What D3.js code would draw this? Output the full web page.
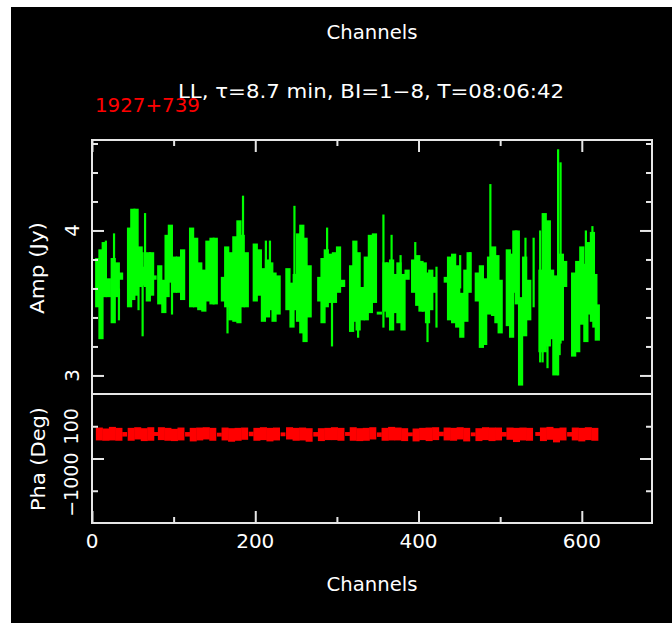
<!DOCTYPE html>
<html>
<head>
<meta charset="utf-8">
<script src="https://cdn.jsdelivr.net/npm/d3@7"></script>
<style>
  body { margin: 0; background: #fff; }
  svg { display: block; }
  text { font-family: "DejaVu Sans", sans-serif; fill: #fff; }
</style>
</head>
<body>
<svg id="chart" width="672" height="623"></svg>
<script>
// amplitude in blocks of ~5 channels (thick part of the error bars)
const blockChan = [7, 11, 15, 20, 26, 31, 35,
  46, 50, 54, 59, 64, 69, 73, 76,
  83, 88, 92, 96, 101, 106, 111,
  122, 127, 132, 137, 142, 147, 151,
  161, 165, 170, 175, 180, 184, 189,
  200, 205, 210, 215, 219, 223, 228,
  240, 245, 249, 253, 257, 261, 266,
  279, 283, 287, 292, 297, 302, 307,
  318, 322, 326, 331, 336, 341, 346, 352,
  359, 363, 367, 372, 376, 381, 386,
  394, 399, 403, 407, 411, 415, 419,
  434, 438, 443, 448, 453, 458, 462,
  472, 477, 481, 487, 492, 496, 500,
  510, 514, 518, 521, 525, 530, 535,
  550, 554, 559, 563, 567, 571, 575, 579,
  590, 595, 600, 605, 609, 613, 616, 619];
const blockLo = [3.47, 3.25, 3.54, 3.54, 3.36, 3.54, 3.66,
  3.47, 3.52, 3.55, 3.61, 3.62, 3.51, 3.55, 3.66,
  3.49, 3.43, 3.54, 3.64, 3.57, 3.57, 3.52,
  3.47, 3.47, 3.45, 3.44, 3.51, 3.49, 3.49,
  3.51, 3.47, 3.38, 3.37, 3.36, 3.47, 3.47,
  3.51, 3.55, 3.37, 3.40, 3.45, 3.37, 3.42,
  3.45, 3.33, 3.45, 3.37, 3.29, 3.23, 3.40,
  3.51, 3.36, 3.47, 3.50, 3.50, 3.57, 3.61,
  3.30, 3.37, 3.31, 3.38, 3.38, 3.43, 3.50, 3.42,
  3.44, 3.40, 3.31, 3.43, 3.36, 3.31, 3.66,
  3.57, 3.48, 3.44, 3.44, 3.36, 3.45, 3.57,
  3.64, 3.38, 3.36, 3.33, 3.26, 3.37, 3.57,
  3.51, 3.19, 3.21, 3.42, 3.41, 3.36, 3.29,
  3.34, 3.26, 3.57, 3.49, 2.93, 3.27, 3.38,
  3.16, 3.16, 3.20, 3.25, 3.00, 3.14, 3.24, 3.61,
  3.13, 3.16, 3.35, 3.23, 3.42, 3.37, 3.33, 3.24];
const blockHi = [3.81, 3.87, 3.92, 3.67, 3.81, 3.78, 3.71,
  4.02, 4.15, 4.15, 3.89, 3.75, 3.85, 3.85, 3.69,
  3.76, 3.66, 3.97, 4.04, 3.82, 3.82, 3.87,
  4.02, 3.95, 3.78, 3.73, 3.93, 3.95, 3.95,
  3.68, 3.89, 3.85, 3.96, 4.07, 3.97, 3.85,
  3.91, 3.87, 3.74, 3.80, 3.78, 3.71, 3.69,
  3.74, 3.64, 3.70, 3.98, 4.04, 3.95, 3.76,
  3.68, 3.81, 3.87, 3.84, 3.85, 3.89, 3.66,
  3.76, 3.93, 3.85, 3.61, 3.82, 3.97, 3.98, 3.44,
  3.78, 3.78, 3.80, 3.70, 3.78, 3.70, 3.73,
  3.80, 3.83, 3.79, 3.78, 3.71, 3.73, 3.68,
  3.68, 3.82, 3.84, 3.76, 3.57, 3.73, 3.85,
  3.71, 3.76, 3.67, 3.82, 3.89, 3.83, 3.66,
  3.87, 3.84, 4.00, 4.00, 3.54, 3.82, 3.66,
  3.73, 4.12, 4.07, 3.73, 3.69, 3.66, 3.84, 3.79,
  3.71, 3.79, 3.89, 3.77, 3.92, 3.99, 3.70, 3.49];

// single channels whose error bars stick out of the blocks
const spikeChan = [17, 27, 33, 57, 62, 65, 98, 166, 185, 213, 218, 248, 288, 294, 326,
  357, 367, 378, 396, 411, 422, 451, 463, 488, 531, 541, 549, 552, 558, 571, 574, 605, 613];
const spikeLo = [3.55, 3.45, 3.38, 3.45, 3.27, 3.61, 3.42, 3.29, 3.60, 3.60, 3.60, 3.55, 3.60, 3.20, 3.26,
  3.33, 3.70, 3.60, 3.70, 3.23, 3.33, 3.60, 3.70, 3.60, 3.60, 3.47, 3.09, 3.09, 3.05, 3.00, 3.22, 3.50, 3.60];
const spikeHi = [3.93, 3.98, 3.60, 3.70, 3.85, 4.12, 3.70, 3.50, 4.24, 3.93, 3.93, 4.17, 4.02, 3.55, 3.40,
  4.11, 3.97, 3.83, 3.92, 3.40, 3.75, 3.83, 3.85, 4.32, 3.95, 3.95, 4.00, 3.50, 3.40, 4.56, 4.47, 4.00, 4.03];

// phase, in bins of 8 channels
const phaseChan = [9, 17, 25, 33, 48, 56, 64, 72, 85, 93, 101, 109, 124, 132, 140, 148,
  163, 171, 179, 187, 202, 210, 218, 226, 242, 250, 258, 266, 281, 289, 297, 305,
  320, 328, 336, 344, 359, 367, 375, 383, 397, 405, 413, 421, 435, 443, 451, 459,
  474, 482, 490, 498, 512, 520, 528, 536, 553, 561, 569, 577, 592, 600, 608, 616];
const phaseVal = [76, 74, 77, 75, 75, 78, 74, 76, 77, 75, 73, 76, 74, 76, 78, 75,
  76, 73, 75, 77, 75, 77, 74, 76, 78, 75, 76, 73, 74, 76, 77, 75,
  76, 74, 75, 78, 75, 77, 76, 74, 73, 76, 75, 77, 76, 75, 78, 74,
  74, 77, 75, 76, 77, 73, 76, 75, 75, 78, 72, 76, 76, 74, 77, 75];
const phaseErr = [20, 19, 21, 20, 20, 19, 20, 21, 20, 20, 19, 20, 21, 20, 19, 20,
  20, 21, 20, 19, 20, 20, 21, 20, 19, 20, 20, 21, 20, 19, 20, 20,
  21, 20, 20, 19, 20, 21, 20, 20, 20, 19, 21, 20, 20, 20, 19, 21,
  20, 20, 21, 20, 19, 22, 20, 20, 21, 20, 22, 20, 20, 21, 20, 20];
// the narrow phase points between the sub-bands
const phaseGapChan = [40, 78, 117, 156, 195, 234, 274, 313, 352, 390, 428, 467, 505, 546, 585];
const phaseGapVal = [75, 76, 75, 74, 76, 75, 75, 76, 74, 75, 76, 75, 75, 76, 75];
const phaseGapErr = [7, 6, 7, 6, 7, 6, 7, 6, 7, 6, 7, 6, 7, 6, 7];

const xMajor = [0, 200, 400, 600];
const xMinor = [100, 300, 500];
const ampMajor = [3, 4];
const ampMinor = [3.2, 3.4, 3.6, 3.8, 4.2, 4.4, 4.6];
const phaMajor = [0];
const phaMinor = [-100, 100];
const phaLabels = [-100, 0, 100];

const FRAME = "#e6e6e6";
const svg = d3.select("#chart");

svg.append("rect").attr("x", 11).attr("y", 7).attr("width", 661).attr("height", 616).attr("fill", "#000");

const padL = 92, padR = 652, padT = 140, padM = 394, padB = 523;
const x = d3.scaleLinear().domain([0, 686]).range([padL, padR]);
const yAmp = d3.scaleLinear().domain([2.872, 4.624]).range([padM, padT]);
const yPha = d3.scaleLinear().domain([-200, 200]).range([padB, padM]);

const blocks = blockChan.map((c, i) => ({c: c, lo: blockLo[i], hi: blockHi[i]}));
const spikes = spikeChan.map((c, i) => ({c: c, lo: spikeLo[i], hi: spikeHi[i]}));
const phases = phaseChan.map((c, i) => ({c: c, v: phaseVal[i], e: phaseErr[i], w: 4.3}))
  .concat(phaseGapChan.map((c, i) => ({c: c, v: phaseGapVal[i], e: phaseGapErr[i], w: 3})));

// green amplitude bars
svg.append("g").selectAll("line").data(spikes).join("line")
  .attr("x1", d => x(d.c)).attr("x2", d => x(d.c))
  .attr("y1", d => yAmp(d.lo)).attr("y2", d => yAmp(d.hi))
  .attr("stroke", "#00ff00").attr("stroke-width", 2.2);
svg.append("g").selectAll("rect").data(blocks).join("rect")
  .attr("x", d => x(d.c - 3.2)).attr("width", d => x(d.c + 3.2) - x(d.c - 3.2))
  .attr("y", d => yAmp(d.hi)).attr("height", d => yAmp(d.lo) - yAmp(d.hi))
  .attr("fill", "#00ff00");

// red phase bars
svg.append("g").selectAll("rect").data(phases).join("rect")
  .attr("x", d => x(d.c - d.w)).attr("width", d => x(d.c + d.w) - x(d.c - d.w))
  .attr("y", d => yPha(d.v + d.e)).attr("height", d => yPha(d.v - d.e) - yPha(d.v + d.e))
  .attr("fill", "#ff0000");

// frame and ticks
function ticks(pos, axis, scale, values, size) {
  const g = svg.append("g").attr("transform", pos);
  g.call(axis(scale).tickValues(values).tickSize(size).tickFormat(""));
  g.select(".domain").remove();
  g.selectAll("line").attr("stroke", FRAME).attr("stroke-width", 2);
}
ticks(`translate(0,${padT})`, d3.axisBottom, x, xMajor, 12);
ticks(`translate(0,${padT})`, d3.axisBottom, x, xMinor, 6);
ticks(`translate(0,${padB})`, d3.axisTop, x, xMajor, 12);
ticks(`translate(0,${padB})`, d3.axisTop, x, xMinor, 6);
ticks(`translate(${padL},0)`, d3.axisRight, yAmp, ampMajor, 12);
ticks(`translate(${padL},0)`, d3.axisRight, yAmp, ampMinor, 6);
ticks(`translate(${padR},0)`, d3.axisLeft, yAmp, ampMajor, 12);
ticks(`translate(${padR},0)`, d3.axisLeft, yAmp, ampMinor, 6);
ticks(`translate(${padL},0)`, d3.axisRight, yPha, phaMajor, 12);
ticks(`translate(${padL},0)`, d3.axisRight, yPha, phaMinor, 6);
ticks(`translate(${padR},0)`, d3.axisLeft, yPha, phaMajor, 12);
ticks(`translate(${padR},0)`, d3.axisLeft, yPha, phaMinor, 6);

svg.append("rect").attr("x", padL).attr("y", padT).attr("width", padR - padL).attr("height", padB - padT)
  .attr("fill", "none").attr("stroke", FRAME).attr("stroke-width", 2);
svg.append("line").attr("x1", padL).attr("x2", padR).attr("y1", padM).attr("y2", padM)
  .attr("stroke", FRAME).attr("stroke-width", 2);

// tick labels
svg.append("g").selectAll("text").data(xMajor).join("text")
  .attr("x", d => x(d)).attr("y", 548).attr("text-anchor", "middle")
  .attr("font-size", 20).text(d => d);
svg.append("g").selectAll("text").data(ampMajor).join("text")
  .attr("transform", d => `translate(79,${yAmp(d)}) rotate(-90)`)
  .attr("text-anchor", "middle").attr("font-size", 20).text(d => d);
svg.append("g").selectAll("text").data(phaLabels).join("text")
  .attr("transform", d => `translate(78,${yPha(d)}) rotate(-90)`)
  .attr("text-anchor", "middle").attr("font-size", 19).text(d => d < 0 ? "\u2212" + (-d) : d);

// titles
svg.append("text").attr("x", 372).attr("y", 39).attr("text-anchor", "middle").attr("font-size", 19)
  .attr("textLength", 91).attr("lengthAdjust", "spacingAndGlyphs").text("Channels");
svg.append("text").attr("x", 372).attr("y", 591).attr("text-anchor", "middle").attr("font-size", 19)
  .attr("textLength", 91).attr("lengthAdjust", "spacingAndGlyphs").text("Channels");
svg.append("text").attr("x", 178).attr("y", 98).attr("font-size", 19)
  .attr("textLength", 386).attr("lengthAdjust", "spacingAndGlyphs")
  .text("LL, \u03c4=8.7 min, BI=1\u22128, T=08:06:42");
svg.append("text").attr("x", 95).attr("y", 112).attr("font-size", 20)
  .attr("textLength", 105).attr("lengthAdjust", "spacingAndGlyphs")
  .style("fill", "#ff0000").text("1927+739");
svg.append("text").attr("transform", "translate(44,268) rotate(-90)").attr("text-anchor", "middle")
  .attr("font-size", 19).attr("textLength", 92).attr("lengthAdjust", "spacingAndGlyphs").text("Amp (Jy)");
svg.append("text").attr("transform", "translate(45,459) rotate(-90)").attr("text-anchor", "middle")
  .attr("font-size", 19).attr("textLength", 104).attr("lengthAdjust", "spacingAndGlyphs").text("Pha (Deg)");
</script>
</body>
</html>
